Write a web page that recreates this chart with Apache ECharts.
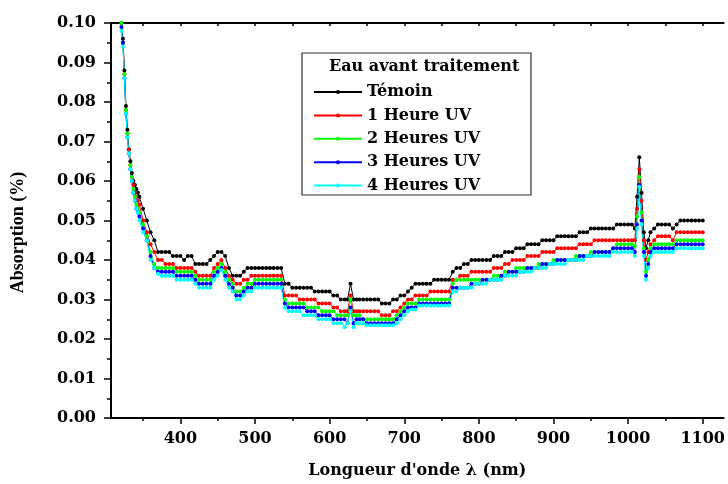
<!DOCTYPE html>
<html>
<head>
<meta charset="utf-8">
<title>Absorption - Eau avant traitement</title>
<script src="https://cdn.jsdelivr.net/npm/echarts@6/dist/echarts.min.js"></script>
<style>
  html, body { margin: 0; padding: 0; background: #ffffff; }
  #spectre { width: 728px; height: 484px; }
</style>
</head>
<body>
<div id="spectre"></div>
<script>
  // longueurs d'onde (nm)
  let wavelengths = [
    321, 323, 325, 327, 329, 331, 333, 335, 337, 339, 341, 343, 345,
    350, 355, 360, 365,
    370, 375, 380, 385, 390, 395, 400, 405, 410, 415,
    420, 425, 430, 435, 440, 445, 450, 455, 460, 465,
    470, 475, 480, 485, 490, 495, 500, 505, 510, 515,
    520, 525, 530, 535, 540, 545, 550, 555, 560, 565,
    570, 575, 580, 585, 590, 595, 600, 605, 610, 615,
    620, 624, 628, 632, 636,
    640, 645, 650, 655, 660, 665, 670, 675, 680, 685,
    690, 695, 700, 705, 710, 715, 720, 725, 730, 735,
    740, 745, 750, 755, 760, 765, 770, 775, 780, 785,
    790, 795, 800, 805, 810, 815, 820, 825, 830, 835,
    840, 845, 850, 855, 860, 865, 870, 875, 880, 885,
    890, 895, 900, 905, 910, 915, 920, 925, 930, 935,
    940, 945, 950, 955, 960, 965, 970, 975, 980, 985,
    990, 995, 1000, 1005, 1009, 1012, 1015, 1018, 1021, 1024, 1027, 1030,
    1035, 1040, 1045, 1050, 1055, 1060, 1065, 1070, 1075, 1080,
    1085, 1090, 1095, 1100
  ];

  let temoin = [
    0.100, 0.096, 0.088, 0.079, 0.073, 0.068, 0.065, 0.062, 0.060, 0.059, 0.058, 0.057, 0.056,
    0.053, 0.050, 0.047, 0.045,
    0.042, 0.042, 0.042, 0.042, 0.041, 0.041, 0.041, 0.040, 0.041, 0.041,
    0.039, 0.039, 0.039, 0.039, 0.040, 0.041, 0.042, 0.042, 0.041, 0.038,
    0.036, 0.036, 0.036, 0.037, 0.038, 0.038, 0.038, 0.038, 0.038, 0.038,
    0.038, 0.038, 0.038, 0.038, 0.034, 0.034, 0.033, 0.033, 0.033, 0.033,
    0.033, 0.033, 0.032, 0.032, 0.032, 0.032, 0.032, 0.031, 0.031, 0.030,
    0.030, 0.030, 0.034, 0.030, 0.030,
    0.030, 0.030, 0.030, 0.030, 0.030, 0.030, 0.029, 0.029, 0.029, 0.030,
    0.030, 0.031, 0.031, 0.032, 0.033, 0.034, 0.034, 0.034, 0.034, 0.034,
    0.035, 0.035, 0.035, 0.035, 0.035, 0.037, 0.038, 0.038, 0.039, 0.039,
    0.040, 0.040, 0.040, 0.040, 0.040, 0.040, 0.041, 0.041, 0.041, 0.042,
    0.042, 0.042, 0.043, 0.043, 0.043, 0.044, 0.044, 0.044, 0.044, 0.045,
    0.045, 0.045, 0.045, 0.046, 0.046, 0.046, 0.046, 0.046, 0.046, 0.047,
    0.047, 0.047, 0.048, 0.048, 0.048, 0.048, 0.048, 0.048, 0.048, 0.049,
    0.049, 0.049, 0.049, 0.049, 0.048, 0.056, 0.066, 0.057, 0.047, 0.043, 0.045, 0.047,
    0.048, 0.049, 0.049, 0.049, 0.049, 0.048, 0.049, 0.050, 0.050, 0.050,
    0.050, 0.050, 0.050, 0.050
  ];

  let uv1h = [
    0.100, 0.095, 0.087, 0.078, 0.072, 0.068, 0.064, 0.061, 0.059, 0.057, 0.056, 0.055, 0.054,
    0.050, 0.047, 0.044, 0.042,
    0.040, 0.040, 0.039, 0.039, 0.039, 0.038, 0.038, 0.038, 0.038, 0.038,
    0.037, 0.036, 0.036, 0.036, 0.036, 0.038, 0.039, 0.040, 0.038, 0.036,
    0.035, 0.034, 0.034, 0.035, 0.035, 0.036, 0.036, 0.036, 0.036, 0.036,
    0.036, 0.036, 0.036, 0.036, 0.031, 0.031, 0.031, 0.031, 0.030, 0.030,
    0.030, 0.030, 0.030, 0.029, 0.029, 0.029, 0.029, 0.028, 0.028, 0.027,
    0.027, 0.027, 0.031, 0.027, 0.027,
    0.027, 0.027, 0.027, 0.027, 0.027, 0.027, 0.026, 0.026, 0.026, 0.027,
    0.027, 0.028, 0.029, 0.030, 0.030, 0.031, 0.031, 0.031, 0.031, 0.032,
    0.032, 0.032, 0.032, 0.032, 0.032, 0.035, 0.035, 0.036, 0.036, 0.036,
    0.037, 0.037, 0.037, 0.037, 0.037, 0.037, 0.038, 0.038, 0.038, 0.039,
    0.039, 0.040, 0.040, 0.040, 0.040, 0.041, 0.041, 0.041, 0.041, 0.042,
    0.042, 0.042, 0.042, 0.043, 0.043, 0.043, 0.043, 0.043, 0.043, 0.044,
    0.044, 0.044, 0.044, 0.045, 0.045, 0.045, 0.045, 0.045, 0.045, 0.045,
    0.045, 0.045, 0.045, 0.045, 0.045, 0.053, 0.063, 0.055, 0.045, 0.040, 0.042, 0.044,
    0.045, 0.046, 0.046, 0.046, 0.046, 0.045, 0.047, 0.047, 0.047, 0.047,
    0.047, 0.047, 0.047, 0.047
  ];

  let uv2h = [
    0.100, 0.095, 0.087, 0.078, 0.072, 0.067, 0.064, 0.061, 0.058, 0.056, 0.054, 0.053, 0.052,
    0.049, 0.046, 0.042, 0.039,
    0.038, 0.038, 0.038, 0.038, 0.038, 0.037, 0.037, 0.037, 0.037, 0.037,
    0.036, 0.035, 0.035, 0.035, 0.035, 0.037, 0.038, 0.039, 0.037, 0.035,
    0.034, 0.032, 0.032, 0.033, 0.034, 0.034, 0.035, 0.035, 0.035, 0.035,
    0.035, 0.035, 0.035, 0.035, 0.030, 0.029, 0.029, 0.029, 0.029, 0.029,
    0.028, 0.028, 0.028, 0.028, 0.027, 0.027, 0.027, 0.027, 0.026, 0.026,
    0.026, 0.026, 0.030, 0.026, 0.026,
    0.026, 0.025, 0.025, 0.025, 0.025, 0.025, 0.025, 0.025, 0.025, 0.025,
    0.026, 0.027, 0.028, 0.029, 0.029, 0.029, 0.030, 0.030, 0.030, 0.030,
    0.030, 0.030, 0.030, 0.030, 0.030, 0.034, 0.035, 0.035, 0.035, 0.035,
    0.035, 0.035, 0.035, 0.035, 0.035, 0.035, 0.036, 0.036, 0.036, 0.037,
    0.037, 0.037, 0.038, 0.038, 0.038, 0.038, 0.038, 0.038, 0.039, 0.039,
    0.039, 0.039, 0.040, 0.040, 0.040, 0.040, 0.040, 0.040, 0.041, 0.041,
    0.041, 0.041, 0.042, 0.042, 0.042, 0.042, 0.042, 0.042, 0.043, 0.044,
    0.044, 0.044, 0.044, 0.044, 0.0435, 0.051, 0.061, 0.052, 0.043, 0.037, 0.040, 0.043,
    0.044, 0.044, 0.044, 0.044, 0.044, 0.044, 0.045, 0.045, 0.045, 0.045,
    0.045, 0.045, 0.045, 0.045
  ];

  let uv3h = [
    0.099, 0.095, 0.086, 0.077, 0.071, 0.067, 0.063, 0.060, 0.057, 0.055, 0.053, 0.052, 0.051,
    0.048, 0.045, 0.041, 0.038,
    0.037, 0.037, 0.037, 0.037, 0.037, 0.036, 0.036, 0.036, 0.036, 0.036,
    0.035, 0.034, 0.034, 0.034, 0.034, 0.036, 0.037, 0.038, 0.036, 0.034,
    0.033, 0.031, 0.031, 0.032, 0.033, 0.033, 0.034, 0.034, 0.034, 0.034,
    0.034, 0.034, 0.034, 0.034, 0.029, 0.028, 0.028, 0.028, 0.028, 0.028,
    0.027, 0.027, 0.027, 0.026, 0.026, 0.026, 0.026, 0.025, 0.025, 0.025,
    0.025, 0.024, 0.028, 0.024, 0.025,
    0.025, 0.025, 0.024, 0.024, 0.024, 0.024, 0.024, 0.024, 0.024, 0.024,
    0.025, 0.026, 0.027, 0.028, 0.028, 0.028, 0.029, 0.029, 0.029, 0.029,
    0.029, 0.029, 0.029, 0.029, 0.029, 0.033, 0.033, 0.033, 0.033, 0.033,
    0.034, 0.034, 0.034, 0.035, 0.035, 0.035, 0.035, 0.035, 0.036, 0.036,
    0.037, 0.037, 0.037, 0.037, 0.037, 0.038, 0.038, 0.038, 0.038, 0.039,
    0.039, 0.039, 0.039, 0.040, 0.040, 0.040, 0.040, 0.040, 0.040, 0.041,
    0.041, 0.041, 0.041, 0.042, 0.042, 0.042, 0.042, 0.042, 0.043, 0.043,
    0.043, 0.043, 0.043, 0.043, 0.042, 0.049, 0.059, 0.050, 0.042, 0.036, 0.039, 0.042,
    0.043, 0.043, 0.043, 0.043, 0.043, 0.043, 0.044, 0.044, 0.044, 0.044,
    0.044, 0.044, 0.044, 0.044
  ];

  let uv4h = [
    0.098, 0.094, 0.086, 0.077, 0.071, 0.067, 0.063, 0.060, 0.057, 0.055, 0.053, 0.052, 0.050,
    0.047, 0.045, 0.040, 0.038,
    0.0365, 0.036, 0.036, 0.036, 0.036, 0.035, 0.035, 0.035, 0.035, 0.035,
    0.034, 0.033, 0.033, 0.033, 0.033, 0.035, 0.036, 0.0375, 0.035, 0.033,
    0.032, 0.030, 0.030, 0.031, 0.032, 0.032, 0.033, 0.033, 0.033, 0.033,
    0.033, 0.033, 0.033, 0.033, 0.028, 0.027, 0.027, 0.027, 0.027, 0.026,
    0.026, 0.026, 0.026, 0.025, 0.025, 0.025, 0.025, 0.024, 0.024, 0.024,
    0.023, 0.024, 0.027, 0.023, 0.024,
    0.024, 0.024, 0.0235, 0.0235, 0.0235, 0.0235, 0.0235, 0.0235, 0.0235, 0.0235,
    0.024, 0.025, 0.026, 0.027, 0.0275, 0.0275, 0.0285, 0.0285, 0.0285, 0.0285,
    0.0285, 0.0285, 0.0285, 0.0285, 0.0285, 0.032, 0.032, 0.033, 0.033, 0.033,
    0.033, 0.034, 0.034, 0.034, 0.034, 0.035, 0.035, 0.035, 0.035, 0.036,
    0.036, 0.036, 0.036, 0.037, 0.037, 0.037, 0.037, 0.038, 0.038, 0.038,
    0.038, 0.039, 0.039, 0.039, 0.039, 0.039, 0.040, 0.040, 0.040, 0.040,
    0.040, 0.041, 0.041, 0.041, 0.041, 0.041, 0.041, 0.041, 0.042, 0.042,
    0.042, 0.042, 0.042, 0.042, 0.041, 0.048, 0.0585, 0.049, 0.041, 0.035, 0.038, 0.041,
    0.042, 0.042, 0.042, 0.042, 0.042, 0.042, 0.043, 0.043, 0.043, 0.043,
    0.043, 0.043, 0.043, 0.043
  ];

  let seriesNames = ['Témoin', '1 Heure UV', '2 Heures UV', '3 Heures UV', '4 Heures UV'];
  let legendTitle = 'Eau avant traitement';
  let xLabelValues = [400, 500, 600, 700, 800, 900, 1000, 1100];
  let xMinorValues = [350, 450, 550, 650, 750, 850, 950, 1050];
  let xTopValues = [350, 400, 450, 500, 550, 600, 650, 700, 750, 800, 850, 900, 950, 1000, 1050, 1100];

  let serif = 'DejaVu Serif';
  let colors = ['#000000', '#ff0000', '#00ff00', '#0000ff', '#00ffff'];

  function pairs(values) {
    return wavelengths.map(function (w, i) { return [w, values[i]]; });
  }

  let chart = echarts.init(document.getElementById('spectre'));
  let allValues = [temoin, uv1h, uv2h, uv3h, uv4h];

  chart.setOption({
    animation: false,
    backgroundColor: '#ffffff',
    title: {
      text: legendTitle,
      left: 329,
      top: 59,
      padding: 0,
      textStyle: { fontFamily: serif, fontSize: 16, fontWeight: 'bold', color: '#000' }
    },
    legend: {
      orient: 'vertical',
      left: 308,
      top: 79,
      itemWidth: 48,
      itemHeight: 5,
      itemGap: 7.4,
      selectedMode: false,
      data: seriesNames,
      textStyle: { fontFamily: serif, fontSize: 16, fontWeight: 'bold', color: '#000' }
    },
    graphic: [{
      type: 'rect',
      shape: { x: 302, y: 53, width: 229, height: 142 },
      style: { fill: 'none', stroke: '#333333', lineWidth: 1.2 },
      z: 10
    }],
    grid: { left: 111, top: 23, right: 0, bottom: 62 },
    xAxis: [{
      type: 'value',
      position: 'bottom',
      min: 307,
      max: 1128,
      name: "Longueur d'onde λ (nm)",
      nameLocation: 'middle',
      nameGap: 45,
      nameTextStyle: { fontFamily: serif, fontSize: 16, fontWeight: 'bold', color: '#000' },
      axisLine: { lineStyle: { color: '#000', width: 2 } },
      axisTick: { customValues: xLabelValues, length: 6, lineStyle: { color: '#000', width: 1.5 } },
      axisLabel: {
        customValues: xLabelValues,
        margin: 13,
        fontFamily: serif, fontSize: 16, fontWeight: 'bold', color: '#000',
        formatter: function (v) { return String(v); }
      },
      splitLine: { show: false }
    }, {
      type: 'value',
      position: 'top',
      min: 307,
      max: 1128,
      axisLine: { lineStyle: { color: '#000', width: 2 } },
      axisTick: { customValues: xTopValues, inside: true, length: 3, lineStyle: { color: '#000', width: 1.5 } },
      axisLabel: { show: false },
      splitLine: { show: false }
    }, {
      type: 'value',
      position: 'bottom',
      min: 307,
      max: 1128,
      axisLine: { show: false },
      axisTick: { customValues: xMinorValues, length: 3, lineStyle: { color: '#000', width: 1.5 } },
      axisLabel: { show: false },
      splitLine: { show: false }
    }],
    yAxis: {
      type: 'value',
      min: 0,
      max: 0.1,
      interval: 0.01,
      name: 'Absorption (%)',
      nameLocation: 'middle',
      nameGap: 84,
      nameTextStyle: {
        fontFamily: 'Liberation Serif', fontSize: 18, fontWeight: 'bold', color: '#000',
        padding: [0, 24, 0, 0]
      },
      axisLine: { show: true, lineStyle: { color: '#000', width: 2 } },
      axisTick: { show: true, length: 7, lineStyle: { color: '#000', width: 1.5 } },
      minorTick: { show: true, splitNumber: 2, length: 4, lineStyle: { color: '#000', width: 1.5 } },
      axisLabel: {
        margin: 15,
        fontFamily: serif, fontSize: 16, fontWeight: 'bold', color: '#000',
        formatter: function (v) { return v.toFixed(2); }
      },
      splitLine: { show: false }
    },
    series: allValues.map(function (values, i) {
      return {
        name: seriesNames[i],
        type: 'line',
        data: pairs(values),
        symbol: 'circle',
        symbolSize: 4,
        color: colors[i],
        lineStyle: { width: 1, color: colors[i] },
        itemStyle: { color: colors[i] }
      };
    })
  });
</script>
</body>
</html>
